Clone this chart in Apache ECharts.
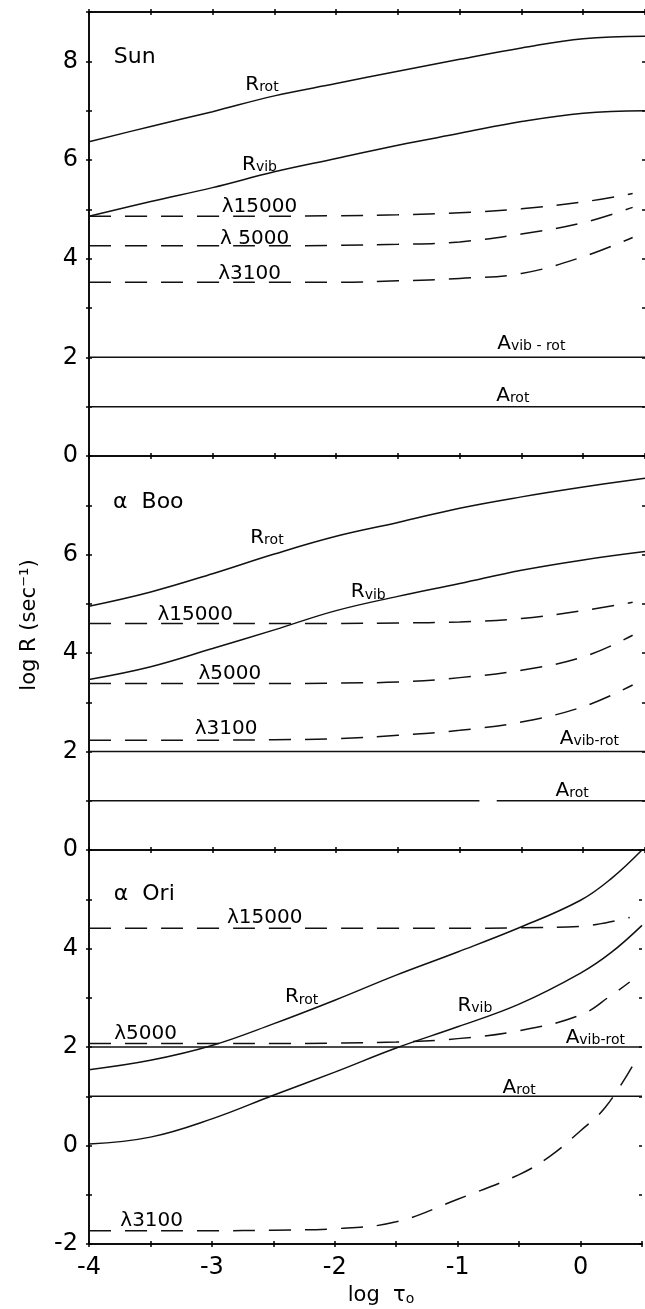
<!DOCTYPE html>
<html><head><meta charset="utf-8">
<script src="https://cdn.jsdelivr.net/npm/echarts@6/dist/echarts.min.js"></script>
<style>html,body{margin:0;padding:0;background:#fff}#c{width:645px;height:1309px}</style>
</head><body><div id="c"></div>
<script>
// ---------- data (log tau0 on x, log R on y) ----------
const xFull = [-4, -3.5, -3, -2.5, -2, -1.5, -1, -0.5, 0, 0.5];
const xDash = [-4, -3.5, -3, -2.5, -2, -1.5, -1, -0.5, 0, 0.4];
const xOri  = [-4, -3.5, -3, -2.5, -2, -1.5, -1, -0.5, 0, 0.25, 0.5];
const xOri15000 = [-4, -3.5, -3, -2.5, -2, -1.5, -1, -0.5, 0, 0.2, 0.4];
const xOri5000  = [-4, -3.5, -3, -2.5, -2, -1.5, -1, -0.5, 0, 0.25, 0.4];
const xOri3100  = [-4, -3.5, -3, -2.5, -2, -1.5, -1, -0.5, -0.25, 0, 0.2, 0.42];

// Sun
const sunRrot   = [6.37, 6.68, 6.98, 7.30, 7.55, 7.80, 8.04, 8.27, 8.46, 8.51];
const sunRvib   = [4.86, 5.16, 5.44, 5.76, 6.03, 6.30, 6.54, 6.78, 6.95, 7.00];
const sun15000  = [4.86, 4.86, 4.86, 4.86, 4.87, 4.89, 4.93, 5.01, 5.15, 5.32];
const sun5000   = [4.26, 4.26, 4.26, 4.26, 4.27, 4.29, 4.34, 4.50, 4.73, 5.04];
const sun3100   = [3.52, 3.52, 3.52, 3.52, 3.52, 3.55, 3.60, 3.70, 4.04, 4.43];
// alpha Boo
const booRrot   = [4.95, 5.24, 5.61, 6.01, 6.37, 6.65, 6.94, 7.17, 7.37, 7.55];
const booRvib   = [3.46, 3.72, 4.09, 4.47, 4.86, 5.15, 5.41, 5.68, 5.89, 6.06];
const boo15000  = [4.60, 4.60, 4.60, 4.60, 4.60, 4.61, 4.63, 4.70, 4.86, 5.03];
const boo5000   = [3.38, 3.38, 3.38, 3.38, 3.39, 3.41, 3.50, 3.65, 3.92, 4.36];
const boo3100   = [2.23, 2.23, 2.23, 2.24, 2.26, 2.33, 2.43, 2.60, 2.91, 3.35];
// alpha Ori
const oriRrot   = [1.54, 1.73, 2.03, 2.47, 2.95, 3.46, 3.93, 4.42, 4.98, 5.42, 6.00];
const oriRvib   = [0.03, 0.17, 0.54, 1.02, 1.49, 1.98, 2.41, 2.87, 3.50, 3.92, 4.47];
const ori15000  = [4.41, 4.41, 4.41, 4.41, 4.41, 4.41, 4.41, 4.42, 4.45, 4.52, 4.63];
const ori5000   = [2.07, 2.07, 2.07, 2.07, 2.08, 2.10, 2.17, 2.33, 2.65, 3.05, 3.32];
const ori3100   = [-1.73, -1.73, -1.73, -1.72, -1.69, -1.55, -1.09, -0.59, -0.22, 0.30, 0.77, 1.60];

// Einstein A levels (constant)
const aVibRot = 2;
const aRot = 1;
const booArotGap = [-0.84, -0.70];

// panel y ranges
const yRanges = [[0, 9], [0, 8], [-2, 6]];
const xRange = [-4, 0.5];

// annotations: [rich text, x, y] in data units
const sunNotes = [
  ['{t|Sun}', -3.63, 8.12],
  ['{m|R}{s|rot}', -2.60, 7.57],
  ['{m|R}{s|vib}', -2.62, 5.95],
  ['{m|λ15000}', -2.62, 5.09],
  ['{m|λ 5000}', -2.66, 4.45],
  ['{m|λ3100}', -2.70, 3.74],
  ['{m|A}{s|vib - rot}', -0.42, 2.32],
  ['{m|A}{s|rot}', -0.57, 1.26]
];
const booNotes = [
  ['{t|α  Boo}', -3.52, 7.11],
  ['{m|R}{s|rot}', -2.56, 6.38],
  ['{m|R}{s|vib}', -1.74, 5.28],
  ['{m|λ15000}', -3.14, 4.81],
  ['{m|λ5000}', -2.86, 3.62],
  ['{m|λ3100}', -2.89, 2.50],
  ['{m|A}{s|vib-rot}', 0.05, 2.30],
  ['{m|A}{s|rot}', -0.09, 1.25]
];
const oriNotes = [
  ['{t|α  Ori}', -3.55, 5.14],
  ['{m|λ15000}', -2.57, 4.67],
  ['{m|R}{s|rot}', -2.27, 3.05],
  ['{m|R}{s|vib}', -0.86, 2.88],
  ['{m|λ5000}', -3.54, 2.30],
  ['{m|A}{s|vib-rot}', 0.12, 2.23],
  ['{m|A}{s|rot}', -0.50, 1.22],
  ['{m|λ3100}', -3.49, -1.49]
];

// ---------- build ----------
const INK = '#000';
const FONT = 'DejaVu Sans';
const pair = (xs, ys) => xs.map((x, i) => [x, ys[i]]);

const grids = [
  {left: 89, right: 0, top: 12, height: 444},
  {left: 89, right: 0, top: 456, height: 394},
  {left: 89, right: 0, top: 850, height: 394}
];

const xAxes = [], yAxes = [];
const xMain = [], yMain = [];
function xAx(g, pos, inside, labels) {
  xAxes.push({
    type: 'value', gridIndex: g, position: pos, min: xRange[0], max: xRange[1], interval: 0.5,
    axisLine: {show: true, onZero: false, lineStyle: {color: INK, width: 1.5}},
    axisTick: {show: true, inside: inside, length: 3, lineStyle: {color: INK, width: 1.5}},
    axisLabel: {show: labels, margin: 12, color: INK, fontFamily: FONT, fontSize: 24,
      formatter: v => (Math.abs(v - Math.round(v)) < 1e-9 && v <= 0) ? String(Math.round(v)) : ''},
    splitLine: {show: false}
  });
  return xAxes.length - 1;
}
function yAx(g, pos, inside, labels, lineShow) {
  const r = yRanges[g];
  yAxes.push({
    type: 'value', gridIndex: g, position: pos, min: r[0], max: r[1], interval: 1,
    axisLine: {show: lineShow, onZero: false, lineStyle: {color: INK, width: 1.5}},
    axisTick: {show: true, inside: inside, length: 3, lineStyle: {color: INK, width: 1.5}},
    axisLabel: {show: labels, margin: 11, color: INK, fontFamily: FONT, fontSize: 24,
      formatter: v => (v % 2 === 0 && v !== r[1]) ? String(v) : ''},
    splitLine: {show: false}
  });
  return yAxes.length - 1;
}
for (let g = 0; g < 3; g++) {
  xMain[g] = xAx(g, 'bottom', false, g === 2);
  xAx(g, 'bottom', true, false);
  if (g === 0) { xAx(g, 'top', false, false); xAx(g, 'top', true, false); }
  yMain[g] = yAx(g, 'left', false, true, true);
  yAx(g, 'left', true, false, true);
  yAx(g, 'right', true, false, false);
}

const series = [];
function line(g, data, dashed) {
  series.push({
    type: 'line', xAxisIndex: xMain[g], yAxisIndex: yMain[g], data: data,
    smooth: 0.4, showSymbol: false, symbol: 'none', silent: true,
    connectNulls: false,
    lineStyle: {color: '#111', width: 1.5, type: dashed ? [22, 14] : 'solid'}, z: 3
  });
}
// Sun
line(0, pair(xFull, sunRrot), false);
line(0, pair(xFull, sunRvib), false);
line(0, pair(xDash, sun15000), true);
line(0, pair(xDash, sun5000), true);
line(0, pair(xDash, sun3100), true);
line(0, [[xRange[0], aVibRot], [xRange[1], aVibRot]], false);
line(0, [[xRange[0], aRot], [xRange[1], aRot]], false);
// alpha Boo
line(1, pair(xFull, booRrot), false);
line(1, pair(xFull, booRvib), false);
line(1, pair(xDash, boo15000), true);
line(1, pair(xDash, boo5000), true);
line(1, pair(xDash, boo3100), true);
line(1, [[xRange[0], aVibRot], [xRange[1], aVibRot]], false);
line(1, [[xRange[0], aRot], [booArotGap[0], aRot], [booArotGap[0], '-'], [booArotGap[1], aRot], [xRange[1], aRot]], false);
// alpha Ori
line(2, pair(xOri, oriRrot), false);
line(2, pair(xOri, oriRvib), false);
line(2, pair(xOri15000, ori15000), true);
line(2, pair(xOri5000, ori5000), true);
line(2, pair(xOri3100, ori3100), true);
line(2, [[xRange[0], aVibRot], [xRange[1], aVibRot]], false);
line(2, [[xRange[0], aRot], [xRange[1], aRot]], false);

const rich = {
  t: {fontSize: 22, fontFamily: FONT, color: INK, lineHeight: 26, verticalAlign: 'bottom', textBorderWidth: 0},
  m: {fontSize: 20, fontFamily: FONT, color: INK, lineHeight: 24, verticalAlign: 'bottom', textBorderWidth: 0},
  s: {fontSize: 14, fontFamily: FONT, color: INK, lineHeight: 11, verticalAlign: 'bottom', textBorderWidth: 0}
};
[sunNotes, booNotes, oriNotes].forEach((notes, g) => {
  series.push({
    type: 'scatter', xAxisIndex: xMain[g], yAxisIndex: yMain[g], symbolSize: 0, silent: true, z: 5,
    itemStyle: {color: 'rgba(0,0,0,0)', opacity: 1},
    data: notes.map(n => ({value: [n[1], n[2]], label: {formatter: n[0]}})),
    label: {show: true, position: 'inside', align: 'center', verticalAlign: 'middle', opacity: 1,
      color: INK, textBorderWidth: 0, textBorderColor: 'transparent', rich: rich}
  });
});

const chart = echarts.init(document.getElementById('c'), null, {renderer: 'canvas'});
chart.setOption({
  backgroundColor: '#fff',
  animation: false,
  grid: grids,
  xAxis: xAxes,
  yAxis: yAxes,
  series: series,
  graphic: [
    {type: 'text', x: 30, y: 625, rotation: Math.PI / 2,
     style: {text: 'log R (sec⁻¹)', fontSize: 21, fontFamily: FONT, fill: INK, align: 'center', verticalAlign: 'middle'}},
    {type: 'text', x: 381, y: 1294,
     style: {text: '{a|log  τ}{b|o}', align: 'center', verticalAlign: 'middle',
       rich: {a: {fontSize: 21, fontFamily: FONT, fill: INK, color: INK, lineHeight: 24, verticalAlign: 'bottom'},
              b: {fontSize: 14, fontFamily: FONT, fill: INK, color: INK, lineHeight: 10, verticalAlign: 'bottom'}}}}
  ]
});
</script></body></html>
